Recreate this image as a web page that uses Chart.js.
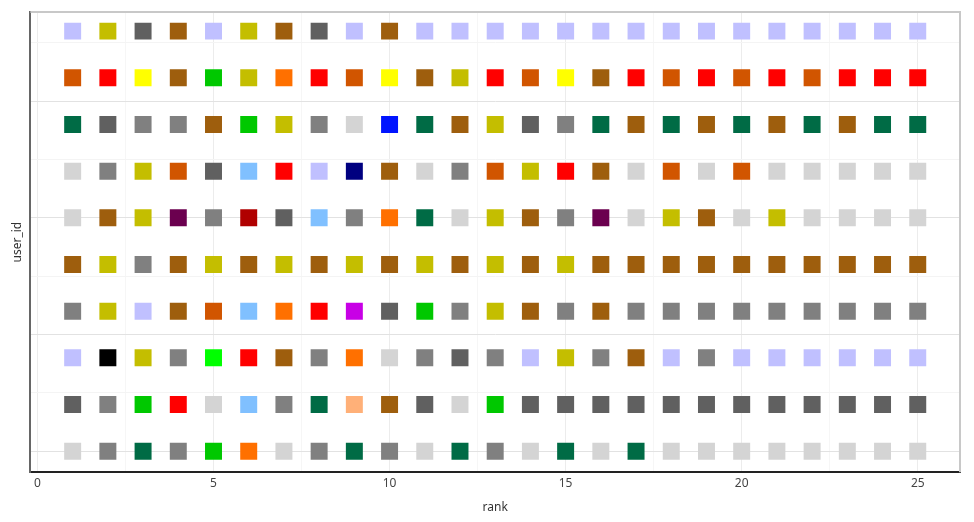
<!DOCTYPE html>
<html>
<head>
<meta charset="utf-8">
<script src="https://cdn.jsdelivr.net/npm/chart.js@4"></script>
<style>
  html, body { margin: 0; padding: 0; background: #fff; }
  #wrap { width: 974px; height: 522px; }
</style>
</head>
<body>
<div id="wrap"><canvas id="chart"></canvas></div>
<script>
// x categories
const ranks = [1,2,3,4,5,6,7,8,9,10,11,12,13,14,15,16,17,18,19,20,21,22,23,24,25];
// y positions of the ten users, bottom to top
const userIds = [0,1,2,3,4,5,6,7,8,9];
const xTicks = [0,2.5,5,7.5,10,12.5,15,17.5,20,22.5,25];
const yTicks = [0,1.25,2.5,3.75,5,6.25,7.5,8.75];

// color category of each square, one list per user (bottom row first)
const user0 = ['LG','GR','DGR','GR','G','O','LG','GR','DGR','GR','LG','DGR','GR','LG','DGR','LG','DGR','LG','LG','LG','LG','LG','LG','LG','LG'];
const user1 = ['DG','GR','G','R','LG','SB','GR','DGR','PE','BR','DG','LG','G','DG','DG','DG','DG','DG','DG','DG','DG','DG','DG','DG','DG'];
const user2 = ['LB','BK','OL','GR','LM','R','BR','GR','O','LG','GR','DG','GR','LB','OL','GR','BR','LB','GR','LB','LB','LB','LB','LB','LB'];
const user3 = ['GR','OL','LB','BR','OR','SB','O','R','MG','DG','G','GR','OL','BR','GR','BR','GR','GR','GR','GR','GR','GR','GR','GR','GR'];
const user4 = ['BR','OL','GR','BR','OL','BR','OL','BR','OL','BR','OL','BR','OL','BR','OL','BR','BR','BR','BR','BR','BR','BR','BR','BR','BR'];
const user5 = ['LG','BR','OL','PU','GR','DR','DG','SB','GR','O','DGR','LG','OL','BR','GR','PU','LG','OL','BR','LG','OL','LG','LG','LG','LG'];
const user6 = ['LG','GR','OL','OR','DG','SB','R','LB','NV','BR','LG','GR','OR','OL','R','BR','LG','OR','LG','OR','LG','LG','LG','LG','LG'];
const user7 = ['DGR','DG','GR','GR','BR','G','OL','GR','LG','B','DGR','BR','OL','DG','GR','DGR','BR','DGR','BR','DGR','BR','DGR','BR','DGR','DGR'];
const user8 = ['OR','R','Y','BR','G','OL','O','R','OR','Y','BR','OL','R','OR','Y','BR','R','OR','R','OR','R','OR','R','R','R'];
const user9 = ['LB','OL','DG','BR','LB','OL','BR','DG','LB','BR','LB','LB','LB','LB','LB','LB','LB','LB','LB','LB','LB','LB','LB','LB','LB'];
const users = [user0,user1,user2,user3,user4,user5,user6,user7,user8,user9];

const palette = {
  LB:'#C0C0FF', OL:'#C4BE00', DG:'#606060', BR:'#9E5E0D', OR:'#D15500',
  R:'#FF0000', Y:'#FFFF00', G:'#00C800', O:'#FF7000', DGR:'#006B45',
  GR:'#808080', LG:'#D4D4D4', B:'#0014FF', SB:'#80C0FF', NV:'#000080',
  PU:'#6B004F', DR:'#B00000', MG:'#C800E6', BK:'#000000', LM:'#00FF00', PE:'#FFB078'
};

const points = [], colors = [];
users.forEach((row, u) => {
  row.forEach((c, i) => {
    points.push({ x: ranks[i], y: userIds[u] });
    colors.push(palette[c]);
  });
});

const font = { family: "'Noto Sans', 'Open Sans', sans-serif", size: 12 };

// light frame on top and right of the plot
const frame = {
  id: 'frame',
  afterDraw(chart) {
    const a = chart.chartArea, ctx = chart.ctx;
    ctx.save();
    ctx.strokeStyle = '#c8c8c8';
    ctx.lineWidth = 2;
    ctx.beginPath();
    ctx.moveTo(a.left, a.top);
    ctx.lineTo(a.right, a.top);
    ctx.lineTo(a.right, a.bottom);
    ctx.stroke();
    ctx.restore();
  }
};

new Chart(document.getElementById('chart').getContext('2d'), {
  type: 'scatter',
  data: { datasets: [{ data: points, backgroundColor: colors, borderWidth: 0, pointStyle: 'rect', pointRadius: 12, pointHoverRadius: 12 }] },
  options: {
    responsive: true,
    maintainAspectRatio: false,
    animation: false,
    events: [],
    layout: { padding: { left: 10, right: 14, top: 3, bottom: 7 } },
    plugins: { legend: { display: false }, tooltip: { enabled: false } },
    scales: {
      x: {
        type: 'linear', min: -0.2, max: 26.2,
        afterBuildTicks: s => { s.ticks = xTicks.map(v => ({ value: v })); },
        ticks: { font, color: '#444', padding: 4, autoSkip: false, maxRotation: 0,
          callback: v => (v % 5 === 0 ? String(v) : '') },
        grid: { drawTicks: false, color: c => (c.tick && c.tick.value % 5 === 0 ? '#ececec' : '#f6f6f6') },
        border: { color: '#222', width: 2 },
        title: { display: true, text: 'rank', font, color: '#333', padding: { top: 6, bottom: 0 } }
      },
      y: {
        type: 'linear', min: -0.45, max: 9.41,
        afterBuildTicks: s => { s.ticks = yTicks.map(v => ({ value: v })); },
        ticks: { display: false },
        grid: { drawTicks: false, color: c => (c.tick && c.tick.value % 2.5 === 0 ? '#e2e2e2' : '#f4f4f4') },
        border: { color: '#666', width: 2 },
        title: { display: true, text: 'user_id', font, color: '#333', padding: { top: 0, bottom: 6 } }
      }
    }
  },
  plugins: [frame]
});
</script>
</body>
</html>
